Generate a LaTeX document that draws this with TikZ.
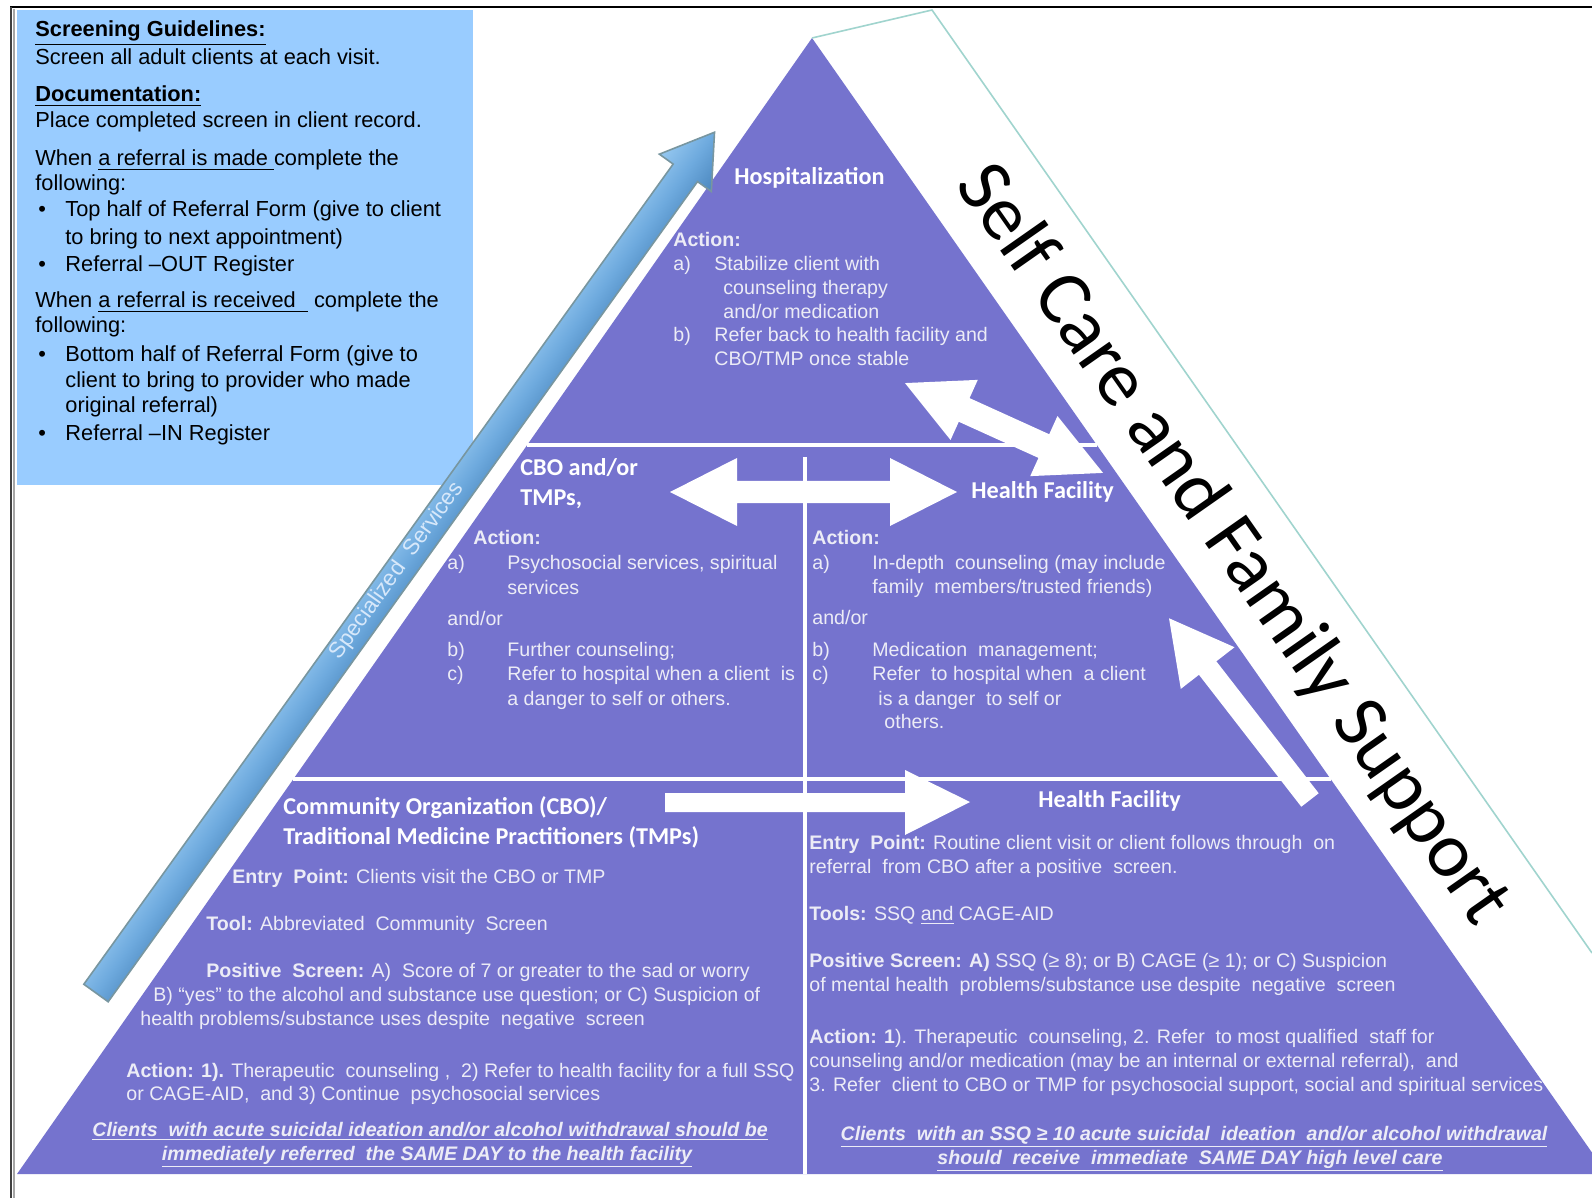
\documentclass[tikz,border=0pt]{standalone}
\usepackage{fontspec}
\setmainfont{Liberation Sans}
\newfontfamily\calib{Carlito}
\definecolor{pyr}{RGB}{117,115,206}
\definecolor{boxblue}{RGB}{153,204,255}
\definecolor{bodyw}{RGB}{236,236,246}
\definecolor{tealline}{RGB}{160,212,206}
\definecolor{arrowlight}{RGB}{150,200,240}
\definecolor{arrowmid}{RGB}{110,170,222}
\definecolor{arrowdark}{RGB}{75,135,190}
\definecolor{arrowedge}{RGB}{120,150,160}
\definecolor{sstext}{RGB}{215,232,250}
\begin{document}
\begin{tikzpicture}[x=0.5pt,y=-0.5pt,
  boxtxt/.style={anchor=base west,inner sep=0pt,font=\fontsize{10.9}{13}\selectfont,text=black},
  boxbold/.style={boxtxt,font=\bfseries\fontsize{10.9}{13}\selectfont},
  body/.style={anchor=base west,inner sep=0pt,font=\fontsize{9.8}{12}\selectfont,text=bodyw},
  bodybold/.style={body,font=\bfseries\fontsize{9.8}{12}\selectfont},
  head/.style={anchor=base west,inner sep=0pt,font=\calib\bfseries\fontsize{12.1}{14}\selectfont,text=white},
  note/.style={anchor=base,inner sep=0pt,font=\bfseries\itshape\fontsize{9.8}{12}\selectfont,text=bodyw},
  divider/.style={white,line width=1.6pt},
  blockarrow/.style={fill=white},
]
\fill[white] (0,0) rectangle (1592,1198);
\useasboundingbox (0,0) rectangle (1592,1198);

% info box
\fill[boxblue] (17,10) rectangle (473,485);

% white strip along the left side
\fill[white] (812,38) -- (17,1174) -- (-28,1174) -- (767,38) -- cycle;

% pyramid
\fill[pyr] (812,38) -- (1607,1174) -- (17,1174) -- cycle;
% self care band outline
\draw[tealline,line width=0.8pt] (812,38) -- (932,10) -- (1592,953);

% dividers
\draw[divider] (527,445) -- (1097,445);
\draw[divider] (293,779) -- (1331,779);
\draw[divider] (805,457) -- (805,1174);

% white block arrows
\fill[blockarrow] (670,492) -- (737,458) -- (737,481) -- (890,481) -- (890,458) -- (957,492)
  -- (890,526) -- (890,503) -- (737,503) -- (737,526) -- cycle;
\fill[blockarrow] (665,793) -- (905,793) -- (905,770) -- (970,802) -- (905,835) -- (905,812) -- (665,812) -- cycle;
\begin{scope}[shift={(1004,428)},rotate=-24.4]
  \fill[blockarrow] (-108.75,0) -- (-43.75,-33) -- (-43.75,-13) -- (43.75,-13) -- (43.75,-33) -- (108.75,0)
    -- (43.75,33) -- (43.75,13) -- (-43.75,13) -- (-43.75,33) -- cycle;
\end{scope}
\begin{scope}[shift={(1310,800)},rotate=127.8]
  \fill[blockarrow] (0,-11) -- (167,-11) -- (167,-34) -- (230,0) -- (167,34) -- (167,11) -- (0,11) -- cycle;
\end{scope}

% blue specialized services arrow
\begin{scope}[transform canvas={shift={(96,993)},rotate=54.3}]
  \shade[top color=arrowlight,bottom color=arrowdark,middle color=arrowmid,draw=arrowedge,line width=0.8pt]
    (0,-15) -- (1010,-15) -- (1010,-32) -- (1060,0) -- (1010,32) -- (1010,15) -- (0,15) -- cycle;
\end{scope}
\node[rotate=54.3,inner sep=0pt,font=\fontsize{11.2}{13}\selectfont,text=sstext] (ss) at (397,571) {Specialized\ \ Services};

% self care text
\node[rotate=-55,inner sep=0pt,font=\calib\fontsize{39}{40}\selectfont,text=black] (sc) at (1232,545) {Self Care and Family Support};

% borders
\draw[line width=1.3pt,black] (10,7) -- (1592,7);
\draw[line width=1.2pt,black!75] (11,7) -- (11,1198);
\draw[line width=1.2pt,black!35] (14,9) -- (14,1198);

% info box text
\node[boxbold] (sg) at (35,37) {\underline{Screening Guidelines:}};
\node[boxtxt] (s1) at (35,65) {Screen all adult clients at each visit.};
\node[boxbold] (doc) at (35,102) {\underline{Documentation:}};
\node[boxtxt] (s2) at (35,128) {Place completed screen in client record.};
\node[boxtxt] (s3) at (35,166) {When \underline{a referral is made\ }complete the};
\node[boxtxt] (s4) at (35,191) {following:};
\node[boxtxt] (b1) at (38,217) {\textbullet};
\node[boxtxt] (s5) at (65,217) {Top half of Referral Form (give to client};
\node[boxtxt] (s6) at (65,245) {to bring to next appointment)};
\node[boxtxt] (b2) at (38,272) {\textbullet};
\node[boxtxt] (s7) at (65,272) {Referral –OUT Register};
\node[boxtxt] (s8) at (35,308) {When \underline{a referral is received\ \ }\ complete the};
\node[boxtxt] (s9) at (35,333) {following:};
\node[boxtxt] (b3) at (38,362) {\textbullet};
\node[boxtxt] (s10) at (65,362) {Bottom half of Referral Form (give to};
\node[boxtxt] (s11) at (65,388) {client to bring to provider who made};
\node[boxtxt] (s12) at (65,413) {original referral)};
\node[boxtxt] (b4) at (38,441) {\textbullet};
\node[boxtxt] (s13) at (65,441) {Referral –IN Register};

% hospitalization
\node[head] (hosp) at (734,185) {Hospitalization};
\node[bodybold] (ha) at (673,247) {Action:};
\node[body] (ha1) at (673,271) {a)};
\node[body] (ha1t) at (714,271) {Stabilize client with};
\node[body] (ha2) at (723,295) {counseling therapy};
\node[body] (ha3) at (723,319) {and/or medication};
\node[body] (hb1) at (673,342) {b)};
\node[body] (hb1t) at (714,342) {Refer back to health facility and};
\node[body] (hb2) at (714,366) {CBO/TMP once stable};

% middle left
\node[head] (cbo1) at (520,475) {CBO and/or};
\node[head] (cbo2) at (520,505) {TMPs,};
\node[bodybold] (ca) at (473,545) {Action:};
\node[body] (ca1) at (447,569) {a)};
\node[body] (ca1t) at (507,569) {Psychosocial services, spiritual};
\node[body] (ca2) at (507,594) {services};
\node[body] (cand) at (447,625) {and/or};
\node[body] (cb) at (447,656) {b)};
\node[body] (cbt) at (507,656) {Further counseling;};
\node[body] (cc) at (447,680) {c)};
\node[body] (cct) at (507,680) {Refer to hospital when a client\ \ is};
\node[body] (cc2) at (507,705) {a danger to self or others.};

% middle right
\node[head] (hf1) at (971,498) {Health Facility};
\node[bodybold] (fa) at (812,545) {Action:};
\node[body] (fa1) at (812,569) {a)};
\node[body] (fa1t) at (872,569) {In-depth\ \ counseling (may include};
\node[body] (fa2) at (872,593) {family\ \ members/trusted friends)};
\node[body] (fand) at (812,624) {and/or};
\node[body] (fb) at (812,656) {b)};
\node[body] (fbt) at (872,656) {Medication\ \ management;};
\node[body] (fc) at (812,680) {c)};
\node[body] (fct) at (872,680) {Refer\ \ to hospital when\ \ a client};
\node[body] (fc2) at (878,705) {is a danger\ \ to self or};
\node[body] (fc3) at (884,728) {others.};

% bottom left
\node[head] (co1) at (283,814) {Community Organization (CBO)/};
\node[head] (co2) at (283,844) {Traditional Medicine Practitioners (TMPs)};
\node[body] (ep) at (232,883) {\textbf{Entry\ \ Point:} Clients visit the CBO or TMP};
\node[body] (tl) at (206,930) {\textbf{Tool:} Abbreviated\ \ Community\ \ Screen};
\node[body] (ps1) at (206,977) {\textbf{Positive\ \ Screen:} A)\ \ Score of 7 or greater to the sad or worry};
\node[body] (ps2) at (153,1001) {B) “yes” to the alcohol and substance use question; or C) Suspicion of};
\node[body] (ps3) at (140,1025) {health\ problems/substance uses despite\ \ negative\ \ screen};
\node[body] (ac1) at (126,1077) {\textbf{Action: 1).} Therapeutic\ \ counseling\ ,\ \ 2) Refer to health facility for a full SSQ};
\node[body] (ac2) at (126,1100) {or CAGE-AID,\ \ and 3) Continue\ \ psychosocial services};
\node[note] (nl1) at (430,1136) {\underline{Clients\ \ with acute suicidal ideation and/or alcohol withdrawal should be}};
\node[note] (nl2) at (427,1160) {\underline{immediately referred\ \ the SAME DAY to the health facility}};

% bottom right
\node[head] (hf2) at (1038,807) {Health Facility};
\node[body] (rep1) at (809,849) {\textbf{Entry\ \ Point:} Routine client visit or client follows through\ \ on};
\node[body] (rep2) at (809,873) {referral\ \ from CBO after a positive\ \ screen.};
\node[body] (rt) at (809,920) {\textbf{Tools:} SSQ \underline{and} CAGE-AID};
\node[body] (rps1) at (809,967) {\textbf{Positive Screen: A)} SSQ (≥ 8); or B) CAGE (≥ 1); or C) Suspicion};
\node[body] (rps2) at (809,991) {of mental health\ \ problems/substance use despite\ \ negative\ \ screen};
\node[body] (rac1) at (809,1043) {\textbf{Action: 1}). Therapeutic\ \ counseling, 2. Refer\ \ to most qualified\ \ staff for};
\node[body] (rac2) at (809,1067) {counseling and/or medication (may be an internal or external referral),\ \ and};
\node[body] (rac3) at (809,1091) {3. Refer\ \ client to CBO or TMP for psychosocial support, social and spiritual services};
\node[note] (nr1) at (1194,1140) {\underline{Clients\ \ with an SSQ ≥ 10 acute suicidal\ \ ideation\ \ and/or alcohol withdrawal}};
\node[note] (nr2) at (1190,1164) {\underline{should\ \ receive\ \ immediate\ \ SAME DAY high level care}};
\end{tikzpicture}
\end{document}
